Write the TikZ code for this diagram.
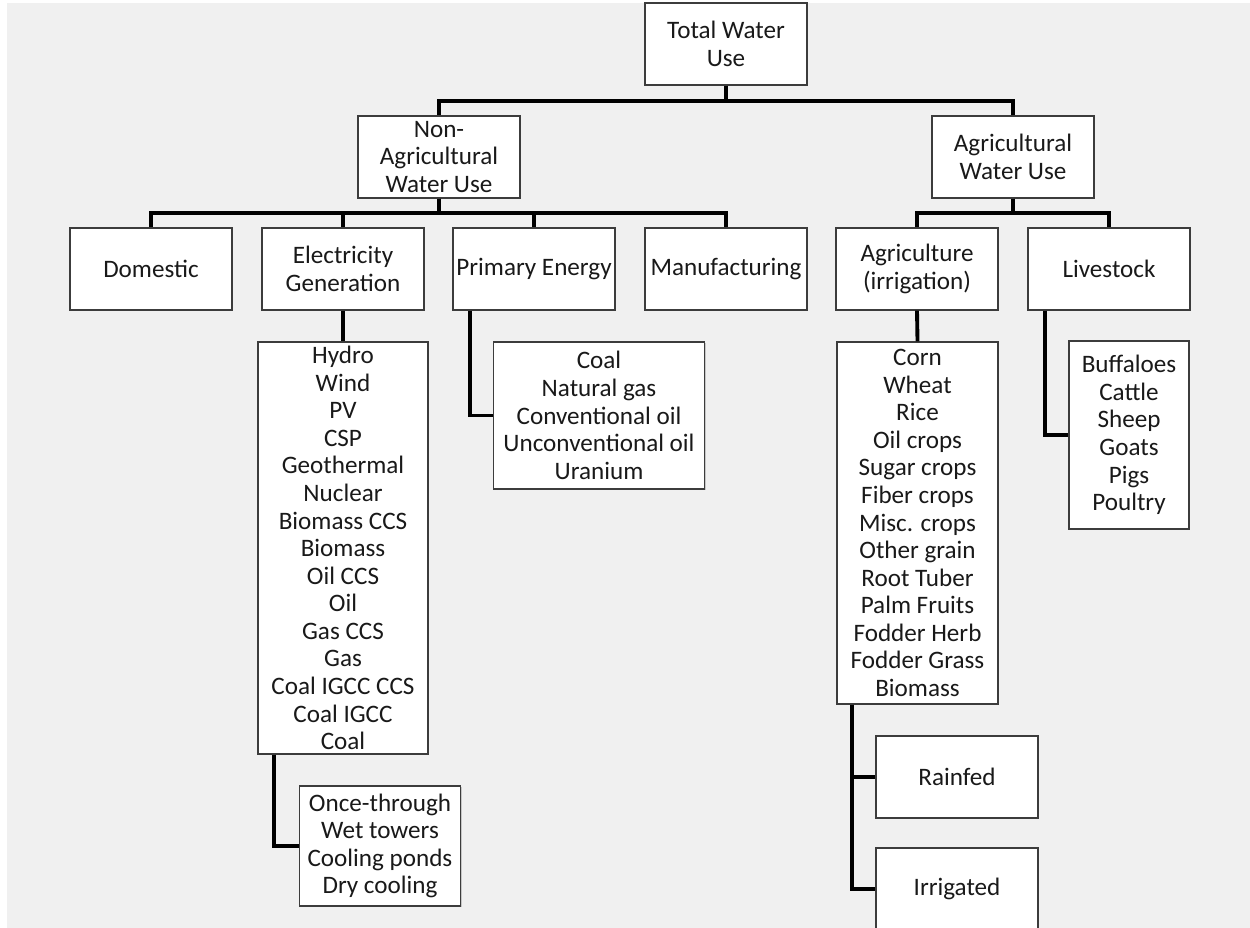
\documentclass[tikz,border=0pt]{standalone}
\usepackage{fontspec}
\setmainfont{Carlito}
\usepackage{xcolor}
\usepackage{tikz}
\usetikzlibrary{calc,shadows}

\definecolor{paper}{HTML}{F0F0F0}
\definecolor{edge}{HTML}{3C3C3C}

\begin{document}
\begin{tikzpicture}[
        x=0.02cm, y=-0.02cm,
        box/.style = {draw=edge, fill=white, line width=0.8pt, align=center, inner sep=0pt,
                      minimum width=3.24cm, minimum height=1.64cm,
                      font=\fontsize{14.3}{15.7}\selectfont, text=black!90,
                      drop shadow={shadow xshift=0.6pt, shadow yshift=-0.6pt, opacity=0.3, fill=black!60}},
        link/.style = {line width=2.2pt, black}
    ]
        \useasboundingbox (0,0) rectangle (1250,928);
        \fill[white] (0,0) rectangle (1250,928);
        \fill[paper] (7,3) rectangle (1250,928);

        % top levels
        \node[box] (total) at (726,44) {Total Water\\Use};
        \node[box] (nonag) at (439,157) {Non-\\Agricultural\\Water Use};
        \node[box] (agri) at (1013,157) {Agricultural\\Water Use};

        % sectors
        \node[box] (dom) at (151,269) {Domestic};
        \node[box] (elec) at (343,269) {Electricity\\Generation};
        \node[box] (prim) at (534,269) {Primary Energy};
        \node[box] (manu) at (726,269) {Manufacturing};
        \node[box] (irrig) at (917,269) {Agriculture\\(irrigation)};
        \node[box] (live) at (1109,269) {Livestock};

        % lists
        \node[box, minimum width=3.4cm, minimum height=8.24cm] (eleclist) at (343,548)
            {Hydro\\Wind\\PV\\CSP\\Geothermal\\Nuclear\\Biomass CCS\\Biomass\\Oil CCS\\Oil\\Gas CCS\\Gas\\Coal IGCC CCS\\Coal IGCC\\Coal};
        \node[box, minimum width=4.22cm, minimum height=2.94cm] (primlist) at (599,415.5)
            {Coal\\Natural gas\\Conventional oil\\Unconventional oil\\Uranium};
        \node[box, minimum width=3.22cm, minimum height=7.24cm] (cropslist) at (917.5,523)
            {Corn\\Wheat\\Rice\\Oil crops\\Sugar crops\\Fiber crops\\Misc. crops\\Other grain\\Root Tuber\\Palm Fruits\\Fodder Herb\\Fodder Grass\\Biomass};
        \node[box, minimum width=2.4cm, minimum height=3.76cm] (livelist) at (1129,435)
            {Buffaloes\\Cattle\\Sheep\\Goats\\Pigs\\Poultry};
        \node[box, minimum width=3.22cm, minimum height=2.4cm] (cool) at (380,846)
            {Once-through\\Wet towers\\Cooling ponds\\Dry cooling};
        \node[box] (rain) at (957,777) {Rainfed};
        \node[box] (irri) at (957,889) {Irrigated};

        % connectors
        \draw[link] (total.south) -- ++(0,15) -| (nonag.north);
        \draw[link] (total.south) -- ++(0,15) -| (agri.north);
        \foreach \c in {dom,elec,prim,manu}
            \draw[link] (nonag.south) -- ++(0,14) -| (\c.north);
        \foreach \c in {irrig,live}
            \draw[link] (agri.south) -- ++(0,14) -| (\c.north);
        \draw[link] (elec.south) -- (eleclist.north);
        \draw[link] (irrig.south) -- (cropslist.north);
        \draw[link] ($(prim.south west)+(18,0)$) |- (primlist.west);
        \draw[link] ($(live.south west)+(18,0)$) |- (livelist.west);
        \draw[link] ($(eleclist.south west)+(17,0)$) |- (cool.west);
        \draw[link] ($(cropslist.south west)+(16,0)$) |- (rain.west);
        \draw[link] ($(cropslist.south west)+(16,0)$) |- (irri.west);
    \end{tikzpicture}
\end{document}
